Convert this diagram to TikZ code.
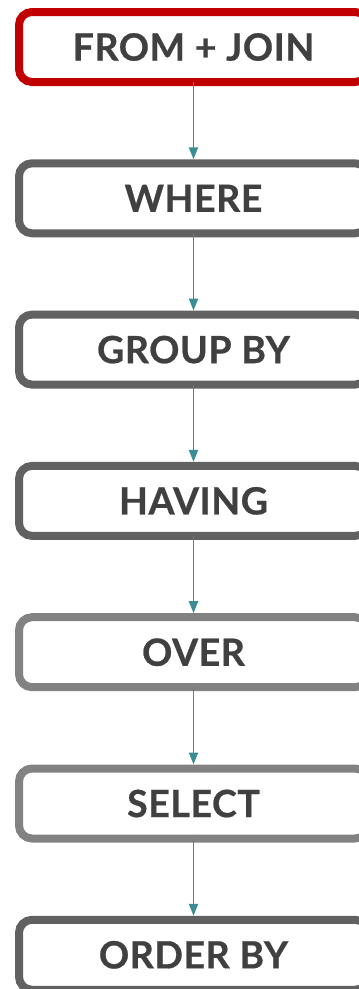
\documentclass[tikz,border=0pt]{standalone}
\usepackage{fontspec}
\setmainfont{Lato}[BoldFeatures={LetterSpace=1.5,FakeBold=0.6}]
\usepackage{tikz}
\usetikzlibrary{arrows.meta,positioning}

\definecolor{redframe}{HTML}{C00000}
\definecolor{darkframe}{HTML}{616161}
\definecolor{lightframe}{HTML}{828282}
\definecolor{labeltext}{HTML}{404040}
\definecolor{flowteal}{HTML}{3B8C93}

\begin{document}
\begin{tikzpicture}[
  x=1pt, y=1pt,
  node distance=73.3pt,
  clause/.style={draw=darkframe, fill=white, line width=8pt, rounded corners=13pt,
                 minimum width=349pt, minimum height=70pt, inner sep=0pt,
                 font=\fontsize{37.5}{40}\selectfont\bfseries, text=labeltext},
  arr/.style={-{Triangle[width=9pt,length=12pt]}, line width=1.9pt, flowteal}
]
\useasboundingbox (0,0) rectangle (359,-989);
\node[clause, draw=redframe] (from) at (193.5,-47) {FROM + JOIN};
\node[clause, below=of from] (where) {WHERE};
\node[clause, below=of where] (group) {GROUP BY};
\node[clause, below=of group] (having) {HAVING};
\node[clause, draw=lightframe, below=of having] (over) {OVER};
\node[clause, draw=lightframe, below=of over] (select) {SELECT};
\node[clause, below=of select] (order) {ORDER BY};

\draw[arr] (from.south) ++(0,4) -- (where.north);
\draw[arr] (where.south) ++(0,4) -- (group.north);
\draw[arr] (group.south) ++(0,4) -- (having.north);
\draw[arr] (having.south) ++(0,4) -- (over.north);
\draw[arr] (over.south) ++(0,4) -- (select.north);
\draw[arr] (select.south) ++(0,4) -- (order.north);
\end{tikzpicture}
\end{document}
